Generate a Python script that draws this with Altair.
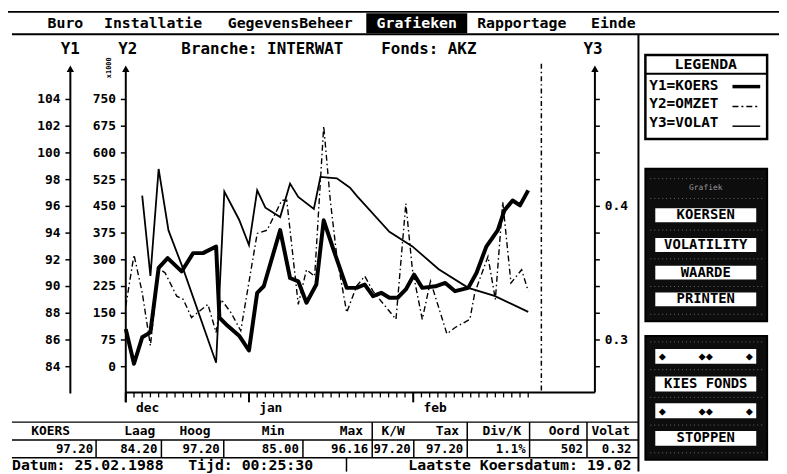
import altair as alt
import pandas as pd

# ---------------- data ----------------
koers_day = [0.0, 1.0, 2.0, 3.0, 4.0, 5.1, 6.8, 8.2, 9.4, 11.0, 11.4, 12.4, 13.8, 15.0,
             16.0, 16.8, 18.8, 20.0, 21.0, 22.0, 23.2, 24.1, 25.3, 26.9, 28.1, 29.1, 30.1,
             31.1, 32.1, 33.1, 34.1, 35.1, 36.1, 37.7, 38.9, 40.1, 41.7, 42.7, 43.9, 45.3,
             46.1, 47.1, 48.0, 49.0]
koers = [86.81, 84.22, 86.20, 86.57, 91.39, 92.13, 91.13, 92.50, 92.50, 92.99, 87.68, 87.06,
         86.32, 85.21, 89.53, 90.02, 94.22, 90.64, 90.39, 88.79, 90.15, 94.96, 92.74, 89.90,
         89.90, 90.15, 89.28, 89.53, 89.16, 89.16, 89.78, 90.89, 89.90, 90.02, 90.27, 89.65,
         89.90, 91.01, 92.99, 94.22, 95.70, 96.44, 96.07, 97.20]

omzet_day = [0.0, 1.0, 2.0, 3.0, 4.0, 4.8, 6.2, 7.0, 8.0, 10.0, 11.0, 11.6, 12.8, 14.0, 16.0,
             17.2, 19.0, 19.6, 21.0, 22.0, 23.0, 24.1, 24.9, 25.7, 26.9, 28.1, 29.1, 30.1,
             32.9, 34.1, 34.9, 36.1, 37.1, 39.1, 40.1, 41.9, 42.5, 44.1, 45.0, 45.9, 46.9,
             48.2, 49.0]
omzet = [170, 314, 208, 59, 277, 263, 198, 189, 138, 175, 96, 189, 152, 101, 374, 383, 467,
         467, 175, 272, 254, 675, 467, 309, 152, 226, 254, 212, 133, 458, 272, 133, 240, 92,
         110, 133, 208, 309, 189, 462, 235, 272, 212]

volat_day = [2.0, 3.0, 4.0, 5.2, 7.0, 11.0, 12.0, 13.8, 15.0, 16.0, 17.0, 18.8, 20.0, 21.0,
             22.9, 23.7, 25.7, 27.3, 28.1, 32.1, 34.9, 38.1, 41.7, 44.9, 49.0]
volat = [0.408, 0.348, 0.428, 0.382, 0.353, 0.283, 0.411, 0.390, 0.371, 0.412, 0.399, 0.392,
         0.417, 0.407, 0.398, 0.422, 0.421, 0.414, 0.408, 0.381, 0.370, 0.353, 0.339, 0.333,
         0.321]

y1_ticks = [84, 86, 88, 90, 92, 94, 96, 98, 100, 102, 104]
y2_ticks = [0, 75, 150, 225, 300, 375, 450, 525, 600, 675, 750]
y3_ticks = [0.28, 0.30, 0.32, 0.34, 0.36, 0.38, 0.40, 0.42, 0.44, 0.46, 0.48]
y3_label_vals = [0.3, 0.4]
y3_labels = ["0.3", "0.4"]
day_ticks = list(range(0, 50))
month_days = [0, 15, 35]
months = ["dec", "jan", "feb"]
marker_day = [50.6]

menu_items = ["Buro", "Installatie", "GegevensBeheer", "Grafieken", "Rapportage", "Einde"]
legend_rows = ["Y1=KOERS", "Y2=OMZET", "Y3=VOLAT"]
panel1_buttons = ["KOERSEN", "VOLATILITY", "WAARDE", "PRINTEN"]
panel2_buttons = ["KIES FONDS", "STOPPEN"]
table_head = ["KOERS", "Laag", "Hoog", "Min", "Max", "K/W", "Tax", "Div/K", "Oord", "Volat"]
table_vals = ["97.20", "84.20", "97.20", "85.00", "96.16", "97.20", "97.20", "1.1%", "502", "0.32"]
status_date = "Datum: 25.02.1988"
status_time = "Tijd: 00:25:30"
status_right = "Laatste Koersdatum: 19.02"

# ---------------- layout helpers ----------------
FONT = "DejaVu Sans Mono"
ONE = pd.DataFrame({"k": [0]})


def P(v):
    return v - 8


def hline(x1, x2, y, w=1.5, color="black", dash=None):
    kw = dict(strokeWidth=w, color=color)
    if dash:
        kw["strokeDash"] = dash
    return alt.Chart(ONE).mark_rule(**kw).encode(
        x=alt.value(P(x1)), x2=alt.value(P(x2)), y=alt.value(P(y)))


def vline(x, y1, y2, w=1.5, color="black", dash=None):
    kw = dict(strokeWidth=w, color=color)
    if dash:
        kw["strokeDash"] = dash
    return alt.Chart(ONE).mark_rule(**kw).encode(
        x=alt.value(P(x)), y=alt.value(P(y1)), y2=alt.value(P(y2)))


def rect(x1, y1, x2, y2, fill="white", stroke=None, sw=2):
    kw = dict(fill=fill)
    if stroke:
        kw.update(stroke=stroke, strokeWidth=sw)
    return alt.Chart(ONE).mark_rect(**kw).encode(
        x=alt.value(P(x1)), x2=alt.value(P(x2)), y=alt.value(P(y1)), y2=alt.value(P(y2)))


def txt(s, x, y, size=13, align="left", color="black", angle=0, weight="bold"):
    return alt.Chart(ONE).mark_text(
        text=s, font=FONT, fontSize=size, fontWeight=weight, align=align,
        baseline="middle", color=color, angle=angle).encode(
        x=alt.value(P(x)), y=alt.value(P(y)))


def arrow(x, y):
    return alt.Chart(ONE).mark_point(shape="triangle-up", filled=True, size=55,
                                     color="black", opacity=1).encode(
        x=alt.value(P(x)), y=alt.value(P(y)))


# ---------------- scales ----------------
XS = alt.Scale(domain=[0, 57], range=[P(127), P(600)], nice=False, zero=False)
Y1S = alt.Scale(domain=[84, 104], range=[P(368), P(98)], nice=False, zero=False)
Y2S = alt.Scale(domain=[0, 750], range=[P(368), P(98)], nice=False, zero=False)
Y3S = alt.Scale(domain=[0.28, 0.48], range=[P(368), P(98)], nice=False, zero=False)

layers = []

# frame & menu
layers += [
    hline(6, 787, 9.5, 2), vline(7, 9, 474, 2), hline(12, 787, 32, 2), vline(645, 32, 474, 2),
    rect(370, 11, 472, 31, fill="black"),
]
menu_x = [48, 105, 230, 421, 482, 597]
for item, mx in zip(menu_items, menu_x):
    if item == "Grafieken":
        layers.append(txt(item, mx, 21, 15, align="center", color="white"))
    else:
        layers.append(txt(item, mx, 21, 15))

# title row
layers += [
    txt("Y1", 71, 47, 16, align="center"),
    txt("Y2", 129, 47, 16, align="center"),
    txt("x1000", 110, 66, 7, align="center", angle=270),
    txt("Branche: INTERWAT", 265, 47, 16, align="center"),
    txt("Fonds: AKZ", 385, 47, 16),
    txt("Y3", 599, 47, 16, align="center"),
]

# axes lines & arrows
layers += [
    vline(71, 68, 395, 2), arrow(71, 67),
    vline(127, 68, 404, 2), arrow(127, 67),
    vline(601, 68, 394, 2), arrow(601, 67),
    hline(127, 601, 394, 2),
]

# y1 axis ticks/labels
y1df = pd.DataFrame({"v": y1_ticks, "lab": [str(t) for t in y1_ticks]})
layers.append(alt.Chart(y1df).mark_rule(color="black", strokeWidth=1.5).encode(
    y=alt.Y("v:Q", scale=Y1S, axis=None), x=alt.value(P(66)), x2=alt.value(P(71))))
layers.append(alt.Chart(y1df).mark_text(font=FONT, fontSize=13, fontWeight="bold",
                                        align="right", baseline="middle").encode(
    y=alt.Y("v:Q", scale=Y1S, axis=None), x=alt.value(P(61)), text="lab:N"))

# y2 axis ticks/labels
y2df = pd.DataFrame({"v": y2_ticks, "lab": [str(t) for t in y2_ticks]})
layers.append(alt.Chart(y2df).mark_rule(color="black", strokeWidth=1.5).encode(
    y=alt.Y("v:Q", scale=Y2S, axis=None), x=alt.value(P(122)), x2=alt.value(P(127))))
layers.append(alt.Chart(y2df).mark_text(font=FONT, fontSize=13, fontWeight="bold",
                                        align="right", baseline="middle").encode(
    y=alt.Y("v:Q", scale=Y2S, axis=None), x=alt.value(P(117)), text="lab:N"))

# y3 axis ticks/labels
y3df = pd.DataFrame({"v": y3_ticks})
layers.append(alt.Chart(y3df).mark_rule(color="black", strokeWidth=1.5).encode(
    y=alt.Y("v:Q", scale=Y3S, axis=None), x=alt.value(P(601)), x2=alt.value(P(606))))
y3ldf = pd.DataFrame({"v": y3_label_vals, "lab": y3_labels})
layers.append(alt.Chart(y3ldf).mark_text(font=FONT, fontSize=13, fontWeight="bold",
                                         align="left", baseline="middle").encode(
    y=alt.Y("v:Q", scale=Y3S, axis=None), x=alt.value(P(611)), text="lab:N"))

# x axis ticks / month labels
xdf = pd.DataFrame({"d": day_ticks})
layers.append(alt.Chart(xdf).mark_rule(color="black", strokeWidth=1.3).encode(
    x=alt.X("d:Q", scale=XS, axis=None), y=alt.value(P(394)), y2=alt.value(P(399))))
mdf = pd.DataFrame({"d": month_days, "m": months})
layers.append(alt.Chart(mdf).mark_rule(color="black", strokeWidth=2).encode(
    x=alt.X("d:Q", scale=XS, axis=None), y=alt.value(P(394)), y2=alt.value(P(404))))
layers.append(alt.Chart(mdf).mark_text(font=FONT, fontSize=13, fontWeight="bold",
                                       align="center", baseline="middle", dx=22).encode(
    x=alt.X("d:Q", scale=XS, axis=None), y=alt.value(P(410)), text="m:N"))

# today marker (dash-dot vertical)
layers.append(alt.Chart(pd.DataFrame({"d": marker_day})).mark_rule(
    color="black", strokeWidth=1.5, strokeDash=[5, 3, 1.5, 3]).encode(
    x=alt.X("d:Q", scale=XS, axis=None), y=alt.value(P(62)), y2=alt.value(P(394))))

# data series
layers.append(alt.Chart(pd.DataFrame({"day": omzet_day, "v": omzet})).mark_line(
    color="black", strokeWidth=1.4, strokeDash=[6, 3, 1.5, 3]).encode(
    x=alt.X("day:Q", scale=XS, axis=None), y=alt.Y("v:Q", scale=Y2S, axis=None)))
layers.append(alt.Chart(pd.DataFrame({"day": volat_day, "v": volat})).mark_line(
    color="black", strokeWidth=1.8).encode(
    x=alt.X("day:Q", scale=XS, axis=None), y=alt.Y("v:Q", scale=Y3S, axis=None)))
layers.append(alt.Chart(pd.DataFrame({"day": koers_day, "v": koers})).mark_line(
    color="black", strokeWidth=4, strokeJoin="round").encode(
    x=alt.X("day:Q", scale=XS, axis=None), y=alt.Y("v:Q", scale=Y1S, axis=None)))

# legend box
layers += [
    rect(652, 53, 775, 138, fill="white", stroke="black", sw=2.5),
    hline(652, 775, 72, 2),
    txt("LEGENDA", 713, 62, 15, align="center"),
]
leg_y = [84, 103, 122]
for row, ly in zip(legend_rows, leg_y):
    layers.append(txt(row, 656, ly, 14.5))
layers += [
    hline(740, 768, 85, 3.5),
    hline(740, 768, 105, 1.5, dash=[6, 3, 2, 3]),
    hline(740, 768, 125, 1.5),
]

# dark button panels
layers += [
    rect(652, 168, 775, 322, fill="#0d0d0d", stroke="black", sw=2),
    rect(652, 337, 775, 462, fill="#0d0d0d", stroke="black", sw=2),
    txt("Grafiek", 713, 187, 8, align="center", color="#9a9a9a", weight="normal"),
]
for y in [178, 198, 230, 259, 287, 315]:
    layers.append(hline(657, 770, y, 1, color="#6a6a6a", dash=[1, 3]))
for y in [343, 371, 399, 427, 455]:
    layers.append(hline(657, 770, y, 1, color="#6a6a6a", dash=[1, 3]))
btn1_y = [(208, 222), (238, 252), (266, 280), (293, 307)]
for lab, (a, b) in zip(panel1_buttons, btn1_y):
    layers.append(rect(662, a, 764, b, fill="white"))
    layers.append(txt(lab, 713, (a + b) / 2, 14, align="center"))
btn2_y = [(378, 393), (433, 448)]
for lab, (a, b) in zip(panel2_buttons, btn2_y):
    layers.append(rect(662, a, 764, b, fill="white"))
    layers.append(txt(lab, 713, (a + b) / 2, 14, align="center"))
for (a, b) in [(350, 365), (405, 420)]:
    layers.append(rect(662, a, 764, b, fill="white"))
    layers.append(txt("◆", 669, (a + b) / 2, 12, align="center"))
    layers.append(txt("◆◆", 713, (a + b) / 2, 12, align="center"))
    layers.append(txt("◆", 757, (a + b) / 2, 12, align="center"))

# data table
layers += [hline(12, 645, 424, 1.5), hline(12, 645, 442, 1.5), hline(12, 645, 460, 1.5)]
for bx in [376, 472, 535, 593]:
    layers.append(vline(bx, 424, 442, 1.5))
val_bars = [97, 163, 226, 306, 376, 418, 472, 535, 593]
for bx in val_bars:
    layers.append(vline(bx, 442, 460, 1.5))
head_x = [51, 141, 197, 276, 355, 397, 452, 507, 570, 617]
for h, hx in zip(table_head, head_x):
    layers.append(txt(h, hx, 433, 13, align="center"))
val_right = [94, 159, 222, 302, 372, 415, 468, 531, 589, 638]
for v, vx in zip(table_vals, val_right):
    layers.append(txt(v, vx, 451, 12.5, align="right"))

# status row
layers += [
    txt(status_date, 12, 467, 15),
    txt(status_time, 190, 467, 15),
    vline(350, 460, 474, 1.5),
    txt(status_right, 638, 467, 15, align="right"),
]

chart = alt.layer(*layers).resolve_scale(y="independent").properties(
    width=779, height=466, padding=0, autosize="none", background="white"
).configure_view(stroke=None)

chart.save("out.html", embed_options={"renderer": "svg", "actions": False})
